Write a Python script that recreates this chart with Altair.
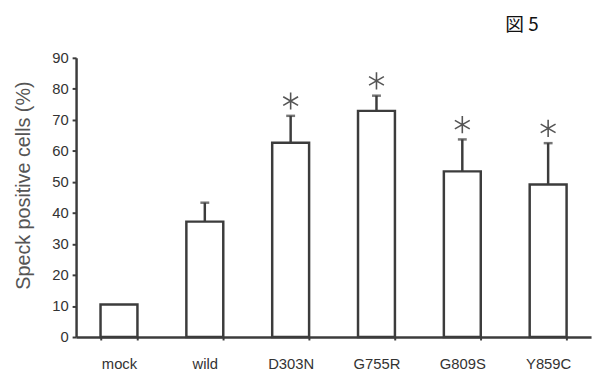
import altair as alt
import pandas as pd

categories = ["mock", "wild", "D303N", "G755R", "G809S", "Y859C"]
values = [10.5, 37.2, 62.6, 72.9, 53.4, 49.2]
err_top = [None, 43.3, 71.3, 77.8, 63.7, 62.5]
significant = [False, False, True, True, True, True]
y_ticks = [0, 10, 20, 30, 40, 50, 60, 70, 80, 90]
fig_label = ["図 5"]

df = pd.DataFrame({"cat": categories, "val": values, "err": err_top, "sig": significant})

LINE = "#3c3c3c"
FONT = "Liberation Sans"

yscale = alt.Scale(domain=[0, 90], nice=False)
yaxis = alt.Axis(title="Speck positive cells (%)", values=y_ticks, tickCount=10, grid=False,
                 labelOverlap=False, labelFontSize=15, labelColor="#333", labelFont=FONT,
                 labelPadding=4, tickSize=4, tickColor=LINE, tickWidth=2,
                 domainColor=LINE, domainWidth=2.5,
                 titleFont=FONT, titleFontSize=20, titleFontWeight="normal", titleColor="#555",
                 titleAngle=-90, titleX=-53, titleY=129, titleAlign="center",
                 titleBaseline="middle")

x = alt.X("cat:N", sort=categories,
          scale=alt.Scale(paddingInner=0.57, paddingOuter=0.285),
          axis=alt.Axis(title=None, labelAngle=0, labelFontSize=15, labelColor="#333",
                        labelFont=FONT, labelPadding=17, tickBand="extent", tickSize=3,
                        tickColor=LINE, tickWidth=2, domainColor=LINE, domainWidth=2.5))

base = alt.Chart(df)

bars = base.mark_bar(fill="white", stroke=LINE, strokeWidth=2.5).encode(
    x=x, y=alt.Y("val:Q", scale=yscale, axis=yaxis))

err = base.transform_filter("isValid(datum.err)").mark_rule(color=LINE, strokeWidth=2.5).encode(
    x=x, y=alt.Y("val:Q", scale=yscale, axis=yaxis), y2="err:Q")

caps = base.transform_filter("isValid(datum.err)").mark_tick(
    color=LINE, size=9, thickness=2.5, orient="horizontal").encode(
    x=x, y=alt.Y("err:Q", scale=yscale, axis=yaxis))

star_path = "M0,-1L0,1M-0.87,-0.5L0.87,0.5M-0.87,0.5L0.87,-0.5"
stars = base.transform_filter("datum.sig").mark_point(
    shape=star_path, filled=False, stroke="#555", strokeWidth=1.6, size=300, yOffset=-15, opacity=1).encode(
    x=x, y=alt.Y("err:Q", scale=yscale, axis=yaxis))

label = alt.Chart(pd.DataFrame({"t": fig_label})).mark_text(
    font="Noto Sans CJK JP", fontSize=19, align="left", baseline="middle", color="#111").encode(
    text="t:N", x=alt.value(435), y=alt.value(-33))

chart = alt.layer(bars, err, caps, stars, label).properties(
    width=522, height=283,
    autosize=alt.AutoSizeParams(type="none"),
    padding={"left": 69, "top": 48, "right": 4, "bottom": 37},
).configure_view(stroke=None)

chart.save("out.html", embed_options={"renderer": "svg", "actions": False})
